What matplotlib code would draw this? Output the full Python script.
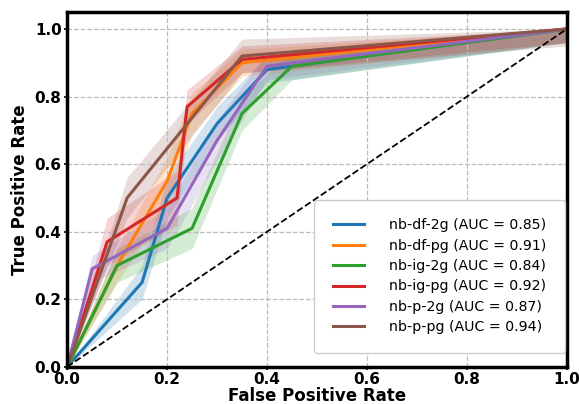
import numpy as np
import matplotlib
matplotlib.use("Agg")
import matplotlib.pyplot as plt

plt.rcParams['font.family'] = 'DejaVu Sans'

# mean ROC vertices
labels = ["nb-df-2g (AUC = 0.85)", "nb-df-pg (AUC = 0.91)", "nb-ig-2g (AUC = 0.84)",
          "nb-ig-pg (AUC = 0.92)", "nb-p-2g (AUC = 0.87)", "nb-p-pg (AUC = 0.94)"]
colors = ["#1f77b4", "#ff7f0e", "#2ca02c", "#d62728", "#9467bd", "#8c564b"]

fpr_df2g = [0.0, 0.15, 0.20, 0.30, 0.40, 1.0]
tpr_df2g = [0.0, 0.25, 0.50, 0.72, 0.88, 1.0]
std_df2g = [0.0, 0.05, 0.06, 0.05, 0.04, 0.04]

fpr_dfpg = [0.0, 0.10, 0.20, 0.25, 0.35, 1.0]
tpr_dfpg = [0.0, 0.30, 0.55, 0.75, 0.90, 1.0]
std_dfpg = [0.0, 0.05, 0.07, 0.06, 0.04, 0.04]

fpr_ig2g = [0.0, 0.10, 0.25, 0.35, 0.45, 1.0]
tpr_ig2g = [0.0, 0.30, 0.41, 0.75, 0.89, 1.0]
std_ig2g = [0.0, 0.05, 0.06, 0.05, 0.04, 0.04]

fpr_igpg = [0.0, 0.08, 0.22, 0.24, 0.35, 1.0]
tpr_igpg = [0.0, 0.37, 0.50, 0.77, 0.91, 1.0]
std_igpg = [0.0, 0.07, 0.08, 0.05, 0.04, 0.04]

fpr_p2g = [0.0, 0.05, 0.20, 0.30, 0.40, 1.0]
tpr_p2g = [0.0, 0.29, 0.41, 0.67, 0.89, 1.0]
std_p2g = [0.0, 0.04, 0.06, 0.06, 0.04, 0.04]

fpr_ppg = [0.0, 0.12, 0.35, 1.0]
tpr_ppg = [0.0, 0.50, 0.92, 1.0]
std_ppg = [0.0, 0.06, 0.05, 0.05]

curves = [(fpr_df2g, tpr_df2g, std_df2g), (fpr_dfpg, tpr_dfpg, std_dfpg),
          (fpr_ig2g, tpr_ig2g, std_ig2g), (fpr_igpg, tpr_igpg, std_igpg),
          (fpr_p2g, tpr_p2g, std_p2g), (fpr_ppg, tpr_ppg, std_ppg)]

fig = plt.figure(figsize=(5.79, 4.04), dpi=100)
ax = fig.add_axes([0.116, 0.092, 0.863, 0.878])

for (fpr, tpr, std), lab, col in zip(curves, labels, colors):
    fpr, tpr, std = np.array(fpr), np.array(tpr), np.array(std)
    upper = np.minimum(tpr + std, 1.0)
    lower = np.maximum(tpr - std, 0.0)
    ax.fill_between(fpr, lower, upper, color=col, alpha=0.2, lw=0)
    ax.plot(fpr, tpr, color=col, lw=2.2, label=lab)

ax.plot([0, 1], [0, 1], 'k--', lw=1.3)

ax.set_xlim(0, 1.0)
ax.set_ylim(0, 1.05)
ax.set_xticks([0, 0.2, 0.4, 0.6, 0.8, 1.0])
ax.set_yticks([0, 0.2, 0.4, 0.6, 0.8, 1.0])
ax.grid(True, ls='--', color='#bbbbbb', lw=0.9)
for s in ax.spines.values():
    s.set_linewidth(2.5)
ax.tick_params(width=1.2, length=2.5, pad=1.5)
for t in ax.get_xticklabels() + ax.get_yticklabels():
    t.set_fontweight('bold')
    t.set_fontsize(11)
ax.set_xlabel('False Positive Rate', fontsize=12, fontweight='bold', labelpad=0)
ax.set_ylabel('True Positive Rate', fontsize=12, fontweight='bold', labelpad=4)

ax.legend(loc='lower right', bbox_to_anchor=(0.996, 0.04), fontsize=10.2,
          borderpad=1.3, labelspacing=0.45, handlelength=2.2, handletextpad=1.8,
          borderaxespad=0, framealpha=1)

fig.savefig('out.png', dpi=100)
